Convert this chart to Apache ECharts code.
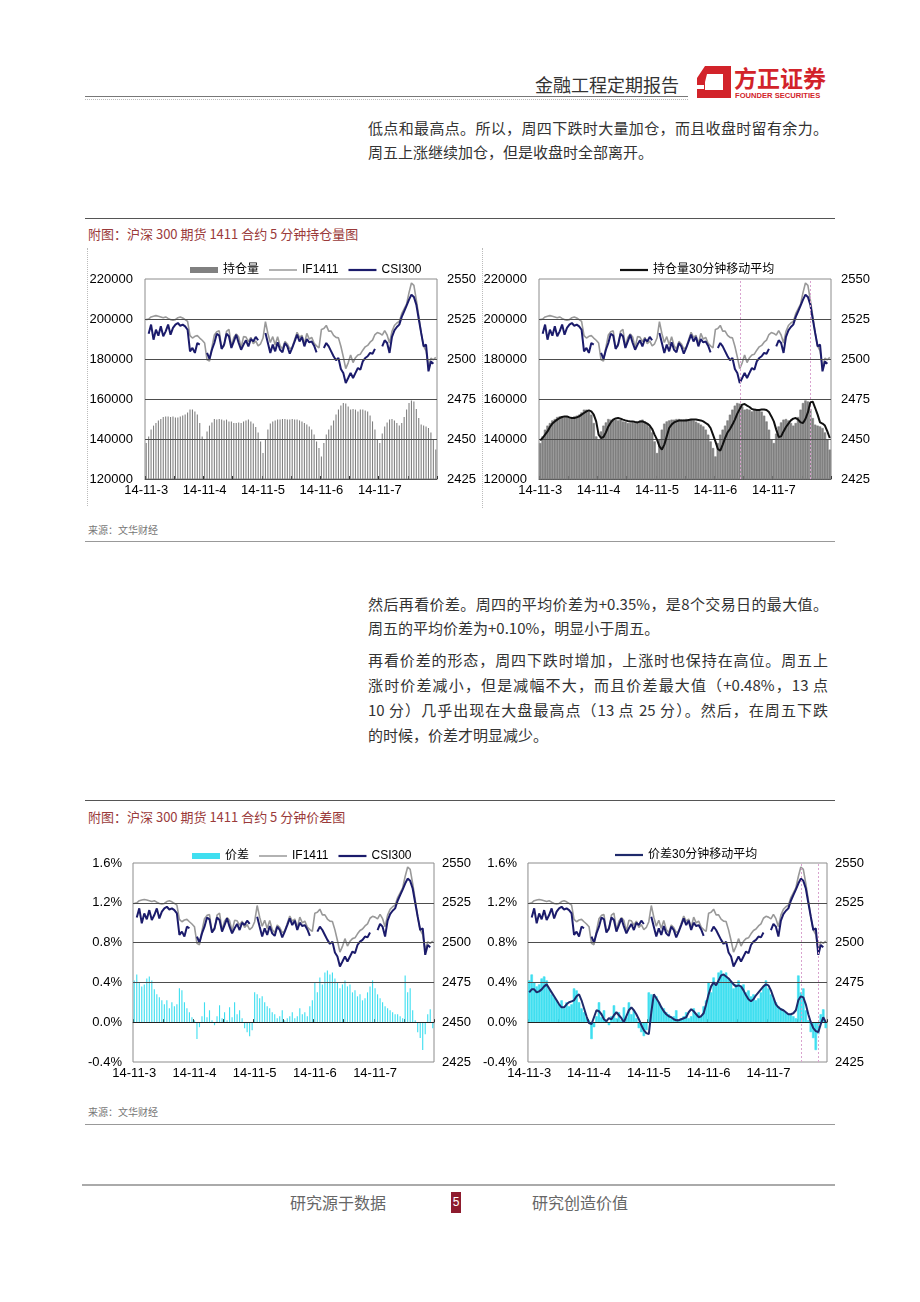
<!DOCTYPE html>
<html>
<head>
<meta charset="utf-8">
<script src="https://cdn.jsdelivr.net/npm/echarts@6/dist/echarts.min.js"></script>
<style>
  html, body { margin:0; padding:0; background:#fff; }
  #page { position:relative; width:920px; height:1302px; overflow:hidden; font-family:'Noto Sans CJK SC', sans-serif; }
  .abs { position:absolute; white-space:nowrap; }
  .p { position:absolute; left:368px; width:460px; font-size:15px; line-height:24px; color:#333; white-space:nowrap; }
  .j { text-align:justify; text-align-last:justify; }
  .hr { position:absolute; height:0; }
  .cap { position:absolute; left:88px; font-size:13px; line-height:16px; color:#9a3a3a; white-space:nowrap; }
  .src { position:absolute; left:88px; font-size:10px; line-height:12px; color:#777; white-space:nowrap; }
  .chart { position:absolute; }
  .vd { position:absolute; width:0; border-left:1px dotted #bbb; }
</style>
</head>
<body>
<div id="page">
  <!-- header -->
  <div class="abs" style="left:535px; top:72px; font-size:18px; line-height:24px; color:#333;">金融工程定期报告</div>
  <svg class="abs" style="left:696px; top:65px;" width="36" height="34" viewBox="0 0 36 34">
    <path fill="#d2232a" fill-rule="evenodd" d="M9 1 L35 1 L35 33 L1 33 L1 13 Z M11 9 L27 9 L27 25 L9 25 L9 17 Z"/>
    <rect x="0" y="20" width="8" height="4" fill="#fff"/>
  </svg>
  <div class="abs" style="left:734px; top:63px; font-size:23px; line-height:28px; font-weight:bold; color:#d2232a;">方正证券</div>
  <div class="abs" style="left:735px; top:91px; font-family:'Liberation Sans',Arial,sans-serif; font-size:7.6px; line-height:9px; font-weight:bold; color:#d2232a;">FOUNDER SECURITIES</div>
  <div class="hr" style="left:85px; top:96px; width:603px; border-top:1.5px solid #777;"></div>
  <div class="hr" style="left:85px; top:99px; width:603px; border-top:1px dotted #bbb;"></div>

  <!-- paragraph 1 -->
  <div class="p j" style="top:116px;">低点和最高点。所以，周四下跌时大量加仓，而且收盘时留有余力。</div>
  <div class="p" style="top:140px;">周五上涨继续加仓，但是收盘时全部离开。</div>

  <!-- figure 1 -->
  <div class="hr" style="left:85px; top:218px; width:750px; border-top:1px solid #555;"></div>
  <div class="cap" style="top:226px;">附图：沪深 300 期货 1411 合约 5 分钟持仓量图</div>
  <div class="vd" style="left:87px; top:248px; height:258px;"></div>
  <div class="vd" style="left:482px; top:248px; height:260px;"></div>
  <div id="c1" class="chart" style="left:85px; top:245px; width:395px; height:265px;"></div>
  <div id="c2" class="chart" style="left:480px; top:245px; width:400px; height:265px;"></div>
  <div class="src" style="top:524px;">来源：文华财经</div>
  <div class="hr" style="left:85px; top:541px; width:750px; border-top:1px solid #999;"></div>

  <!-- paragraphs 2,3 -->
  <div class="p j" style="top:592px;">然后再看价差。周四的平均价差为+0.35%，是8个交易日的最大值。</div>
  <div class="p" style="top:616px;">周五的平均价差为+0.10%，明显小于周五。</div>
  <div class="p j" style="top:648px;">再看价差的形态，周四下跌时增加，上涨时也保持在高位。周五上</div>
  <div class="p j" style="top:673px;">涨时价差减小，但是减幅不大，而且价差最大值（+0.48%，13 点</div>
  <div class="p j" style="top:698px;">10 分）几乎出现在大盘最高点（13 点 25 分）。然后，在周五下跌</div>
  <div class="p" style="top:723px;">的时候，价差才明显减少。</div>

  <!-- figure 2 -->
  <div class="hr" style="left:85px; top:800px; width:750px; border-top:1px solid #555;"></div>
  <div class="cap" style="top:809px;">附图：沪深 300 期货 1411 合约 5 分钟价差图</div>
  <div id="c3" class="chart" style="left:85px; top:830px; width:395px; height:260px;"></div>
  <div id="c4" class="chart" style="left:480px; top:830px; width:400px; height:260px;"></div>
  <div class="src" style="top:1106px;">来源：文华财经</div>
  <div class="hr" style="left:85px; top:1124px; width:750px; border-top:1px solid #999;"></div>

  <!-- footer -->
  <div class="hr" style="left:82px; top:1184px; width:753px; border-top:2px solid #aaa;"></div>
  <div class="abs" style="left:290px; top:1191px; font-size:16px; line-height:22px; color:#666;">研究源于数据</div>
  <div class="abs" style="left:451px; top:1192px; width:10px; height:21px; background:#8e1b2e; color:#fff; font-family:'Liberation Sans',Arial,sans-serif; font-size:12px; line-height:21px; text-align:center;">5</div>
  <div class="abs" style="left:532px; top:1191px; font-size:16px; line-height:22px; color:#666;">研究创造价值</div>
</div>

<script>
// ---------------- data ----------------
const dates = ['14-11-3', '14-11-4', '14-11-5', '14-11-6', '14-11-7'];
const times = ['09:25','09:35','09:45','09:55','10:05','10:15','10:25','10:40','10:50','11:00','11:15','11:25',
               '13:05','13:15','13:25','13:40','13:50','14:00','14:15','14:25','14:35','14:50','15:00','15:10'];

// IF1411 futures price
const ifPrice = [
  2524.6,2525.0,2526.3,2526.7,2527.1,2526.7,2526.3,2525.8,2526.3,2525.4,2524.6,2524.2,2524.6,2525.8,2526.3,2525.6,2524.6,2523.5,2514.6,2513.1,2514.2,2514.6,2513.1,2511.7,
  2510.0,2499.5,2498.7,2507.3,2515.0,2517.1,2517.6,2506.8,2508.2,2517.3,2518.5,2507.9,2513.5,2515.7,2513.8,2507.1,2514.0,2513.7,2510.9,2513.5,2509.5,2511.3,2508.2,2509.5,
  2513.1,2523.3,2516.0,2510.3,2514.0,2508.8,2513.9,2508.3,2506.2,2511.0,2509.4,2506.3,2507.4,2512.0,2516.7,2513.5,2514.8,2509.4,2516.0,2512.4,2513.5,2509.8,2508.2,2507.0,
  2518.5,2519.0,2521.0,2517.4,2517.4,2514.8,2513.5,2513.2,2508.0,2501.3,2494.0,2497.6,2502.5,2497.8,2500.8,2502.5,2503.0,2505.5,2507.6,2508.5,2510.5,2511.8,2515.3,2516.5,
  2516.0,2514.9,2517.7,2515.0,2510.0,2517.3,2520.9,2522.5,2523.5,2528.3,2531.3,2534.3,2541.5,2547.5,2546.0,2537.0,2527.0,2516.0,2508.0,2505.0,2495.0,2500.5,2499.5,2501.0
];

// CSI300 index (spot not trading in the first / last futures slot)
const csiPrice = [
  null,2515.8,2521.5,2512.1,2518.3,2514.6,2520.4,2514.2,2517.3,2521.5,2515.2,2519.4,2521.5,2522.5,2520.8,2521.5,2520.4,2518.3,2504.8,2506.9,2503.8,2510.0,2509.0,null,
  null,2503.8,2500.0,2505.8,2510.0,2515.8,2514.6,2506.3,2509.0,2515.8,2514.2,2506.9,2511.0,2515.2,2510.0,2505.8,2509.0,2511.7,2507.9,2512.5,2511.0,2513.8,2511.7,null,
  null,2516.3,2510.0,2503.8,2509.0,2504.8,2510.4,2505.8,2504.2,2510.0,2507.9,2503.3,2506.9,2511.0,2515.2,2511.0,2513.8,2507.9,2512.5,2510.4,2511.0,2508.3,2504.2,null,
  null,2506.9,2510.0,2507.9,2504.8,2501.7,2499.2,2500.6,2493.8,2491.3,2485.0,2488.1,2491.3,2488.1,2491.3,2494.4,2493.3,2498.5,2500.6,2501.7,2503.8,2503.3,2506.3,null,
  null,2507.9,2511.7,2510.0,2503.8,2513.8,2517.9,2520.0,2521.5,2526.3,2529.8,2533.3,2537.1,2540.2,2538.8,2534.0,2525.0,2516.3,2507.9,2509.0,2492.3,2498.5,2497.1,null
];

// open interest (持仓量)
const openInterest = [
  138000,141300,144700,146700,148000,149300,150000,151000,151300,151300,151000,151300,150700,150700,151300,151700,152200,153300,154700,154700,153800,152200,148000,141300,
  139700,143800,146700,148300,150000,149700,150000,149700,149300,149700,148800,148700,148000,148000,148300,148000,148700,149300,149700,148800,147700,146000,143300,138800,
  133000,139700,144700,147700,148800,149300,149700,149700,150000,150000,149700,149700,150000,149700,149700,149300,148700,148000,147200,146300,144700,142200,138800,135500,
  131300,138000,142200,144700,146700,149300,152200,154700,156700,158000,157700,156300,154700,155000,154700,153800,154700,154700,154300,153700,151700,148800,144700,139700,
  138000,142700,146300,148300,149700,150000,149300,148000,146700,148000,151000,154700,158000,159300,158800,155000,150500,147200,146700,146300,145500,143300,139700,134700
];

// open interest 30-minute moving average
const oiMA = [
  139300,140500,142200,143800,146000,147700,148800,149700,150500,151000,151300,151300,150800,150500,150500,150800,151300,152200,153000,153800,154300,153800,152200,148800,
  142200,140500,141000,143300,146300,148300,149700,150300,150500,150200,149700,149300,149000,148800,148800,148500,148300,148700,148800,148300,147700,146700,145000,142200,
  139700,136300,134700,137200,141300,145500,147200,148300,148800,149200,149300,149300,149300,149500,149700,149700,149700,149500,149300,148800,148000,147200,145500,142200,
  138800,135000,134200,137200,140500,143300,145000,147200,149700,152700,155000,157200,157500,156700,156000,155000,154700,154500,154500,154700,154700,154500,153500,151300,
  148800,144700,141000,141300,143800,146000,147700,149300,150200,150500,149700,148300,148000,150000,153300,158300,158700,155500,152200,148300,147700,146700,143800,140500
];

// futures-spot spread, %
const spread = [
  0.42,0.48,0.40,0.36,0.38,0.44,0.46,0.42,0.33,0.28,0.25,0.22,0.18,0.22,0.14,0.20,0.16,0.18,0.34,0.32,0.20,0.14,0.10,0.05,
  0.02,-0.17,-0.05,0.06,0.20,0.05,0.12,0.02,-0.03,0.06,0.17,0.04,0.10,0.02,0.15,0.05,0.20,0.08,0.12,0.04,-0.06,-0.10,-0.14,-0.08,
  0.30,0.28,0.24,0.26,0.20,0.16,0.14,0.10,0.08,0.04,0.06,0.12,0.02,0.04,0.06,0.10,0.04,0.06,0.14,0.08,0.10,0.06,0.16,0.22,
  0.40,0.30,0.45,0.38,0.50,0.52,0.48,0.50,0.44,0.40,0.34,0.38,0.42,0.36,0.38,0.30,0.32,0.26,0.28,0.22,0.24,0.30,0.36,0.42,
  0.34,0.28,0.24,0.20,0.16,0.14,0.12,0.10,0.08,0.08,0.06,0.04,0.47,0.30,0.34,0.12,0.02,-0.10,-0.16,-0.28,-0.12,0.08,0.13,-0.06
];

// spread 30-minute moving average, %
const spreadMA = [
  0.30,0.33,0.33,0.30,0.31,0.33,0.36,0.38,0.34,0.30,0.26,0.22,0.18,0.15,0.15,0.18,0.20,0.21,0.22,0.26,0.28,0.22,0.14,0.06,
  -0.01,-0.02,0.05,0.12,0.11,0.08,0.03,0.01,0.04,0.03,0.07,0.10,0.07,0.04,0.00,0.06,0.12,0.15,0.12,0.08,0.03,-0.03,-0.08,-0.11,
  -0.12,0.10,0.28,0.24,0.20,0.15,0.11,0.08,0.06,0.05,0.03,0.02,0.02,0.03,0.04,0.05,0.10,0.13,0.11,0.08,0.05,0.06,0.09,0.18,
  0.28,0.36,0.40,0.37,0.42,0.47,0.48,0.46,0.44,0.41,0.38,0.36,0.37,0.36,0.32,0.27,0.23,0.21,0.23,0.27,0.30,0.33,0.36,0.38,
  0.37,0.32,0.25,0.18,0.15,0.13,0.12,0.10,0.08,0.08,0.09,0.12,0.22,0.26,0.25,0.18,0.08,0.00,-0.06,-0.09,-0.10,-0.02,0.05,0.00
];

const oiTicks = [120000, 220000, 20000];      // min, max, step
const spreadTicks = [-0.4, 1.6, 0.4];
const priceTicks = [2425, 2550, 25];
const oiMarkIdx = [82, 111];                  // 周四低点 / 周五高点
const spreadMarkIdx = [109, 116];

// ---------------- build ----------------
const categories = [];
dates.forEach(d => times.forEach(t => categories.push(d + ' ' + t)));

const FONT = "'Liberation Sans', Arial, 'Noto Sans CJK SC', sans-serif";
const THIN_LINE_ICON = 'path://M0,0L28,0L28,1.5L0,1.5Z';
const THICK_LINE_ICON = 'path://M0,0L28,0L28,2.2L0,2.2Z';

function makeOption(cfg) {
  const series = [];
  series.push({
    name: cfg.barName, type: 'bar', yAxisIndex: 0, data: cfg.barData,
    barCategoryGap: cfg.dense ? '0%' : '55%',
    itemStyle: cfg.dense
      ? { color: cfg.barColor, borderColor: cfg.barColor, borderWidth: 0.6 }
      : { color: cfg.barColor },
    z: 1,
    markLine: {
      silent: true, symbol: ['none', 'none'], label: { show: false },
      data: cfg.gridVals.map(v => ({ yAxis: v, lineStyle: { color: v === 0 ? '#222' : '#4d4d4d', width: 1, type: 'solid' } })),
      emphasis: { disabled: true }
    }
  });
  const ifSeries = {
    name: 'IF1411', type: 'line', yAxisIndex: 1, data: ifPrice, symbol: 'none',
    lineStyle: { color: '#999999', width: 1.6 }, itemStyle: { color: '#999999' }, z: 3
  };
  if (cfg.marks) {
    ifSeries.markLine = {
      silent: true, symbol: ['none', 'none'], label: { show: false },
      lineStyle: { color: '#d9a3cf', width: 1, type: [2, 2] },
      data: cfg.marks.map(i => ({ xAxis: categories[i] })),
      emphasis: { disabled: true }
    };
  }
  series.push(ifSeries);
  series.push({
    name: 'CSI300', type: 'line', yAxisIndex: 1, data: csiPrice, symbol: 'none', connectNulls: false,
    lineStyle: { color: '#1b1b6b', width: 2 }, itemStyle: { color: '#1b1b6b' }, z: 4
  });
  if (cfg.maData) {
    series.push({
      name: cfg.maName, type: 'line', yAxisIndex: 0, data: cfg.maData, symbol: 'none',
      lineStyle: { color: cfg.maColor, width: 2 }, itemStyle: { color: cfg.maColor }, z: 5
    });
  }
  return {
    animation: false,
    textStyle: { fontFamily: FONT },
    legend: {
      left: cfg.legendLeft, top: cfg.legendTop, itemWidth: 28, itemHeight: 6, itemGap: 10,
      symbolKeepAspect: true,
      selectedMode: false, textStyle: { fontSize: 12, color: '#000', fontFamily: FONT },
      data: cfg.legendData
    },
    grid: {
      left: cfg.grid[0], top: cfg.grid[1], width: cfg.grid[2], height: cfg.grid[3],
      show: true, borderColor: '#8c8c8c', borderWidth: 1, backgroundColor: 'transparent'
    },
    xAxis: {
      type: 'category', data: categories, boundaryGap: true,
      axisLine: { show: true, lineStyle: { color: '#555' } },
      axisTick: { show: true, interval: 11, inside: true, length: 3, lineStyle: { color: '#333' } },
      axisLabel: { interval: 23, formatter: v => v.split(' ')[0], color: '#000', fontSize: 13, margin: 5, fontFamily: FONT },
      splitLine: { show: false }
    },
    yAxis: [
      {
        type: 'value', position: 'left', min: cfg.leftTicks[0], max: cfg.leftTicks[1], interval: cfg.leftTicks[2],
        axisLine: { show: false }, axisTick: { show: false }, splitLine: { show: false },
        axisLabel: { color: '#000', fontSize: 13, margin: cfg.leftMargin, formatter: cfg.leftFmt, fontFamily: FONT }
      },
      {
        type: 'value', position: 'right', min: priceTicks[0], max: priceTicks[1], interval: priceTicks[2],
        axisLine: { show: false }, axisTick: { show: false }, splitLine: { show: false },
        axisLabel: { color: '#000', fontSize: 13, margin: cfg.rightMargin, formatter: v => String(Math.round(v)), fontFamily: FONT }
      }
    ],
    series: series
  };
}

const oiFmt = v => String(Math.round(v));
const spFmt = v => (Math.round(v * 10) / 10).toFixed(1) + '%';
const oiGrid = [140000, 160000, 180000, 200000];
const spGrid = [0, 0.4, 0.8, 1.2];

const opts = [
  ['c1', makeOption({
    barName: '持仓量', barData: openInterest, barColor: '#808080', dense: false, gridVals: oiGrid,
    legendLeft: 100, legendTop: 14,
    legendData: [{ name: '持仓量', icon: 'rect' }, { name: 'IF1411', icon: THIN_LINE_ICON }, { name: 'CSI300', icon: THICK_LINE_ICON }],
    grid: [60, 34, 292, 200], leftTicks: oiTicks, leftFmt: oiFmt, leftMargin: 12, rightMargin: 10
  })],
  ['c2', makeOption({
    barName: '持仓量', barData: openInterest, barColor: '#808080', dense: true, gridVals: oiGrid,
    maData: oiMA, maName: '持仓量30分钟移动平均', maColor: '#111111', marks: oiMarkIdx,
    legendLeft: 135, legendTop: 14,
    legendData: [{ name: '持仓量30分钟移动平均', icon: THICK_LINE_ICON }],
    grid: [59, 34, 292, 200], leftTicks: oiTicks, leftFmt: oiFmt, leftMargin: 12, rightMargin: 10
  })],
  ['c3', makeOption({
    barName: '价差', barData: spread, barColor: '#40dff0', dense: false, gridVals: spGrid,
    legendLeft: 102, legendTop: 15,
    legendData: [{ name: '价差', icon: 'rect' }, { name: 'IF1411', icon: THIN_LINE_ICON }, { name: 'CSI300', icon: THICK_LINE_ICON }],
    grid: [48, 33, 301, 199], leftTicks: spreadTicks, leftFmt: spFmt, leftMargin: 11, rightMargin: 8
  })],
  ['c4', makeOption({
    barName: '价差', barData: spread, barColor: '#40dff0', dense: true, gridVals: spGrid,
    maData: spreadMA, maName: '价差30分钟移动平均', maColor: '#1f2a6b', marks: spreadMarkIdx,
    legendLeft: 130, legendTop: 14,
    legendData: [{ name: '价差30分钟移动平均', icon: THICK_LINE_ICON }],
    grid: [44, 33, 303, 199], leftTicks: spreadTicks, leftFmt: spFmt, leftMargin: 11, rightMargin: 8
  })]
];

opts.forEach(([id, o]) => {
  const c = echarts.init(document.getElementById(id), null, { renderer: 'canvas' });
  c.setOption(o);
});
</script>
</body>
</html>
